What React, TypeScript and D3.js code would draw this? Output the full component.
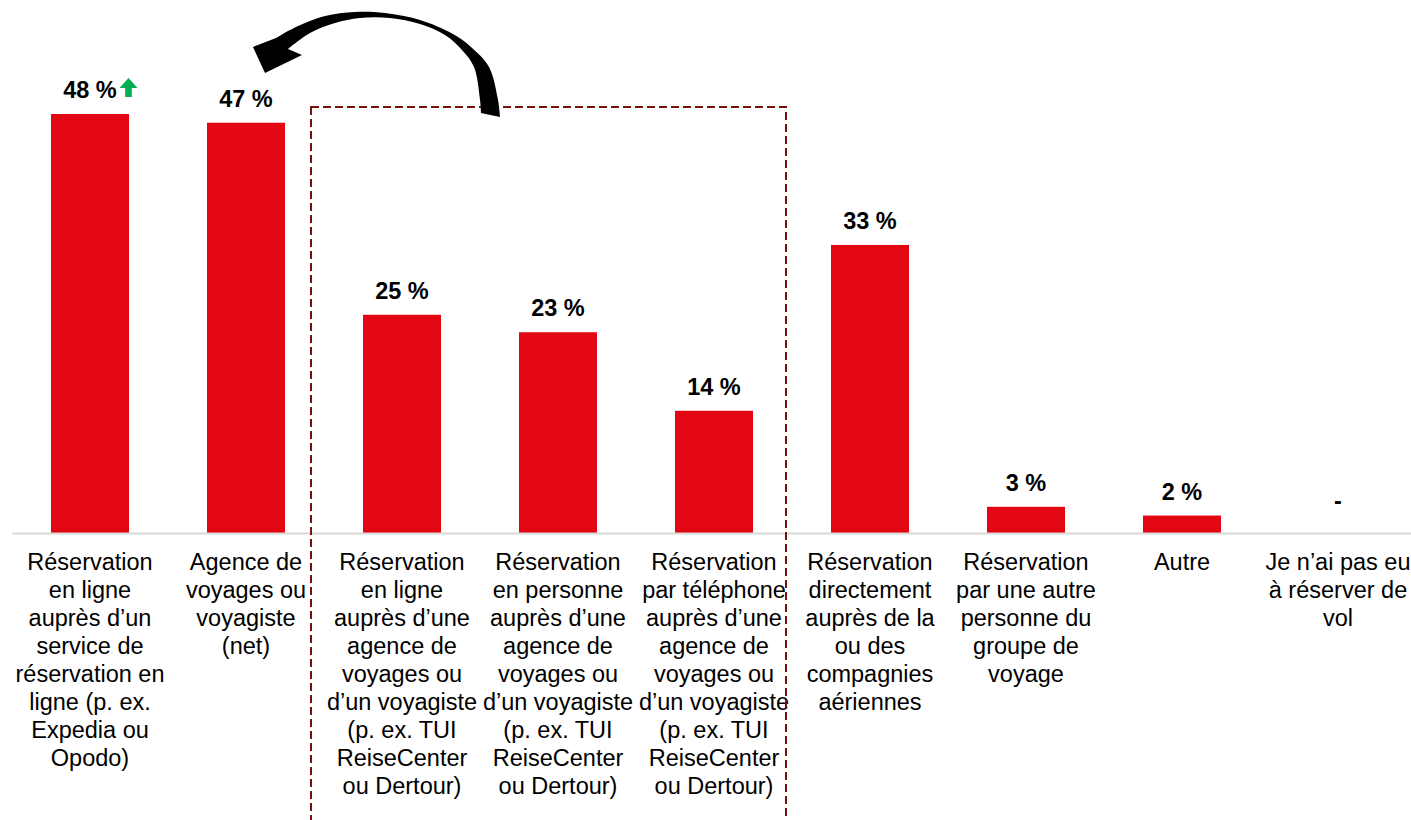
import React from "react";
import * as d3 from "d3";

const categories = ["c1", "c2", "c3", "c4", "c5", "c6", "c7", "c8", "c9"];
const values: (number | null)[] = [48, 47, 25, 23, 14, 33, 3, 2, null];
const valueLabels = ["48 %", "47 %", "25 %", "23 %", "14 %", "33 %", "3 %", "2 %", "-"];
const categoryLabels: string[][] = [
  ["Réservation", "en ligne", "auprès d’un", "service de", "réservation en", "ligne (p. ex.", "Expedia ou", "Opodo)"],
  ["Agence de", "voyages ou", "voyagiste", "(net)"],
  ["Réservation", "en ligne", "auprès d’une", "agence de", "voyages ou", "d’un voyagiste", "(p. ex. TUI", "ReiseCenter", "ou Dertour)"],
  ["Réservation", "en personne", "auprès d’une", "agence de", "voyages ou", "d’un voyagiste", "(p. ex. TUI", "ReiseCenter", "ou Dertour)"],
  ["Réservation", "par téléphone", "auprès d’une", "agence de", "voyages ou", "d’un voyagiste", "(p. ex. TUI", "ReiseCenter", "ou Dertour)"],
  ["Réservation", "directement", "auprès de la", "ou des", "compagnies", "aériennes"],
  ["Réservation", "par une autre", "personne du", "groupe de", "voyage"],
  ["Autre"],
  ["Je n’ai pas eu", "à réserver de", "vol"],
];

// decorative curved arrow outline (tail -> head along outer edge, head -> tail along inner edge)
const arrowOuter: [number, number][] = [
  [500, 117], [498, 100], [489, 67], [471, 47], [453, 34], [420, 20], [385, 13], [355, 12], [325, 16], [298, 26], [276, 38],
];
const arrowHead: [number, number][] = [[253, 47], [265, 73], [302, 55]];
const arrowInner: [number, number][] = [
  [288, 49], [310, 33], [335, 23], [360, 18], [390, 18], [420, 24], [445, 35], [462, 50], [474, 67], [480, 100], [481, 113],
];

const W = 1411;
const H = 820;
const FONT = "Arial, 'Liberation Sans', sans-serif";

export default function App() {
  const x = d3.scaleBand<string>().domain(categories).range([12, 1416]).paddingInner(0.5).paddingOuter(0.25);
  const y = d3.scaleLinear().domain([0, 48]).range([533, 114]);
  const baseY = y(0);

  const curve = d3.line().curve(d3.curveCatmullRom.alpha(0.5));
  const outerD = curve(arrowOuter) as string;
  const innerD = (curve(arrowInner) as string).replace(/^M/, "L");
  const headD = arrowHead.map((p) => `L${p[0]},${p[1]}`).join("");
  const arrowPath = outerD + headD + innerD + "Z";

  const gx = (x(categories[0]) as number) + x.bandwidth() / 2 + 38.5;
  const gTop = y(values[0] as number) - 36;

  return (
    <svg width={W} height={H} style={{ position: "absolute", left: 0, top: 0, background: "#fff" }} fontFamily={FONT}>
      <rect x={0} y={0} width={W} height={H} fill="#fff" />
      {categories.map((c, i) =>
        values[i] != null ? (
          <rect key={c} x={x(c)} y={y(values[i] as number)} width={x.bandwidth()} height={baseY - y(values[i] as number)} fill="#e30613" />
        ) : null
      )}
      <line x1={12} x2={W} y1={baseY + 0.5} y2={baseY + 0.5} stroke="#d9d9d9" strokeWidth={2} />
      {categories.map((c, i) => {
        const cx = (x(c) as number) + x.bandwidth() / 2;
        const top = values[i] != null ? y(values[i] as number) : baseY - 8;
        return (
          <text key={c} x={cx} y={top - 16} textAnchor="middle" fontWeight="bold" fontSize={23.5} fill="#000">
            {valueLabels[i]}
          </text>
        );
      })}
      <path
        d={`M ${gx} ${gTop} L ${gx + 9} ${gTop + 10} L ${gx + 3.3} ${gTop + 10} L ${gx + 3.3} ${gTop + 19} L ${gx - 3.3} ${gTop + 19} L ${gx - 3.3} ${gTop + 10} L ${gx - 9} ${gTop + 10} Z`}
        fill="#00b050"
      />
      {categories.map((c, i) => {
        const cx = (x(c) as number) + x.bandwidth() / 2;
        return (
          <text key={c} x={cx} y={570} textAnchor="middle" fontSize={23.5} fill="#000">
            {categoryLabels[i].map((l, j) => (
              <tspan key={j} x={cx} dy={j === 0 ? 0 : 28}>
                {l}
              </tspan>
            ))}
          </text>
        );
      })}
      <rect x={311} y={107} width={475} height={717} fill="none" stroke="#7a0f0f" strokeWidth={2} strokeDasharray="8 4" />
      <path d={arrowPath} fill="#000" />
    </svg>
  );
}
